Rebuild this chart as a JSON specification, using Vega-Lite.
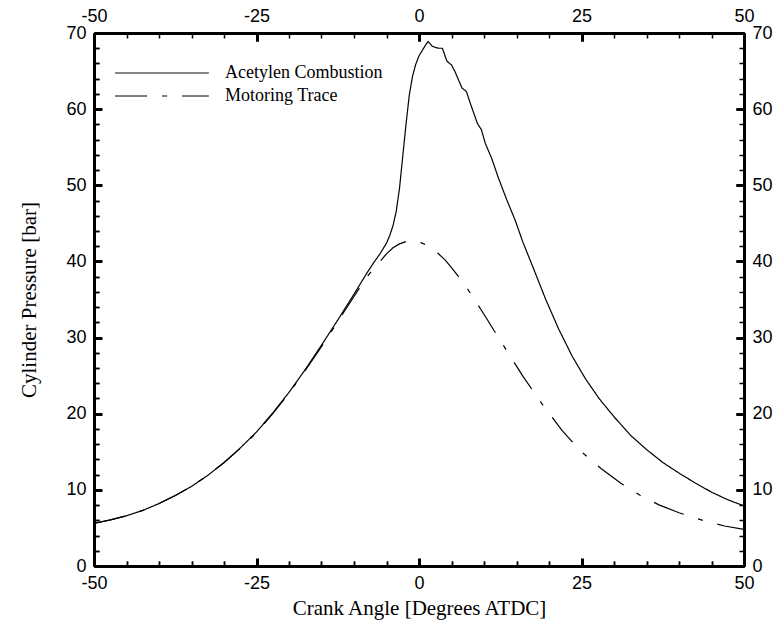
{
  "$schema": "https://vega.github.io/schema/vega-lite/v6.json",
  "autosize": {"type": "none"},
  "padding": {"left": 94, "top": 33, "right": 35, "bottom": 55},
  "width": 650,
  "height": 533,
  "background": "white",
  "config": {
    "view": {"stroke": null},
    "axis": {"domainColor": "black", "domainWidth": 3, "labelColor": "black", "titleColor": "black", "labelFont": "Liberation Sans", "labelFontSize": 18, "labelFontWeight": "normal", "titleFont": "Liberation Serif", "titleFontSize": 21, "titleFontWeight": "normal"}
  },
  "datasets": {
    "pressure": [
      {"angle": -50, "p": 5.6, "series": "Acetylen Combustion"},
      {"angle": -47.5, "p": 6.05, "series": "Acetylen Combustion"},
      {"angle": -45, "p": 6.6, "series": "Acetylen Combustion"},
      {"angle": -42.5, "p": 7.3, "series": "Acetylen Combustion"},
      {"angle": -40, "p": 8.2, "series": "Acetylen Combustion"},
      {"angle": -37.5, "p": 9.25, "series": "Acetylen Combustion"},
      {"angle": -35, "p": 10.45, "series": "Acetylen Combustion"},
      {"angle": -32.5, "p": 11.9, "series": "Acetylen Combustion"},
      {"angle": -30, "p": 13.6, "series": "Acetylen Combustion"},
      {"angle": -27.5, "p": 15.5, "series": "Acetylen Combustion"},
      {"angle": -25, "p": 17.6, "series": "Acetylen Combustion"},
      {"angle": -22.5, "p": 20.1, "series": "Acetylen Combustion"},
      {"angle": -20, "p": 22.8, "series": "Acetylen Combustion"},
      {"angle": -17.5, "p": 25.8, "series": "Acetylen Combustion"},
      {"angle": -15, "p": 29.0, "series": "Acetylen Combustion"},
      {"angle": -12.5, "p": 32.3, "series": "Acetylen Combustion"},
      {"angle": -10, "p": 35.7, "series": "Acetylen Combustion"},
      {"angle": -8, "p": 38.5, "series": "Acetylen Combustion"},
      {"angle": -7, "p": 39.8, "series": "Acetylen Combustion"},
      {"angle": -6, "p": 41.0, "series": "Acetylen Combustion"},
      {"angle": -5, "p": 42.4, "series": "Acetylen Combustion"},
      {"angle": -4.5, "p": 43.4, "series": "Acetylen Combustion"},
      {"angle": -4, "p": 44.7, "series": "Acetylen Combustion"},
      {"angle": -3.5, "p": 46.6, "series": "Acetylen Combustion"},
      {"angle": -3, "p": 49.6, "series": "Acetylen Combustion"},
      {"angle": -2.5, "p": 53.8, "series": "Acetylen Combustion"},
      {"angle": -2, "p": 58.0, "series": "Acetylen Combustion"},
      {"angle": -1.5, "p": 61.8, "series": "Acetylen Combustion"},
      {"angle": -1, "p": 64.3, "series": "Acetylen Combustion"},
      {"angle": -0.5, "p": 65.9, "series": "Acetylen Combustion"},
      {"angle": 0, "p": 67.0, "series": "Acetylen Combustion"},
      {"angle": 0.5, "p": 67.7, "series": "Acetylen Combustion"},
      {"angle": 1, "p": 68.4, "series": "Acetylen Combustion"},
      {"angle": 1.4, "p": 68.9, "series": "Acetylen Combustion"},
      {"angle": 1.7, "p": 68.6, "series": "Acetylen Combustion"},
      {"angle": 2, "p": 68.3, "series": "Acetylen Combustion"},
      {"angle": 2.5, "p": 68.1, "series": "Acetylen Combustion"},
      {"angle": 3, "p": 68.0, "series": "Acetylen Combustion"},
      {"angle": 3.6, "p": 68.0, "series": "Acetylen Combustion"},
      {"angle": 4, "p": 67.0, "series": "Acetylen Combustion"},
      {"angle": 4.3, "p": 66.3, "series": "Acetylen Combustion"},
      {"angle": 5, "p": 65.8, "series": "Acetylen Combustion"},
      {"angle": 5.5, "p": 65.0, "series": "Acetylen Combustion"},
      {"angle": 6, "p": 64.0, "series": "Acetylen Combustion"},
      {"angle": 6.6, "p": 62.8, "series": "Acetylen Combustion"},
      {"angle": 7.3, "p": 62.3, "series": "Acetylen Combustion"},
      {"angle": 8, "p": 60.5, "series": "Acetylen Combustion"},
      {"angle": 9, "p": 58.1, "series": "Acetylen Combustion"},
      {"angle": 9.6, "p": 57.3, "series": "Acetylen Combustion"},
      {"angle": 10.2, "p": 55.5, "series": "Acetylen Combustion"},
      {"angle": 11.2, "p": 53.5, "series": "Acetylen Combustion"},
      {"angle": 12.2, "p": 51.0, "series": "Acetylen Combustion"},
      {"angle": 13.5, "p": 48.1, "series": "Acetylen Combustion"},
      {"angle": 14.8, "p": 45.4, "series": "Acetylen Combustion"},
      {"angle": 16, "p": 42.5, "series": "Acetylen Combustion"},
      {"angle": 17.6, "p": 39.1, "series": "Acetylen Combustion"},
      {"angle": 19.5, "p": 35.0, "series": "Acetylen Combustion"},
      {"angle": 21.5, "p": 31.1, "series": "Acetylen Combustion"},
      {"angle": 23.6, "p": 27.5, "series": "Acetylen Combustion"},
      {"angle": 25.6, "p": 24.6, "series": "Acetylen Combustion"},
      {"angle": 27.7, "p": 22.0, "series": "Acetylen Combustion"},
      {"angle": 30, "p": 19.6, "series": "Acetylen Combustion"},
      {"angle": 32.5, "p": 17.2, "series": "Acetylen Combustion"},
      {"angle": 35, "p": 15.3, "series": "Acetylen Combustion"},
      {"angle": 37.5, "p": 13.6, "series": "Acetylen Combustion"},
      {"angle": 40, "p": 12.2, "series": "Acetylen Combustion"},
      {"angle": 42.5, "p": 10.9, "series": "Acetylen Combustion"},
      {"angle": 45, "p": 9.7, "series": "Acetylen Combustion"},
      {"angle": 47.5, "p": 8.7, "series": "Acetylen Combustion"},
      {"angle": 50, "p": 7.9, "series": "Acetylen Combustion"},
      {"angle": -50, "p": 5.6, "series": "Motoring Trace"},
      {"angle": -47.5, "p": 6.05, "series": "Motoring Trace"},
      {"angle": -45, "p": 6.6, "series": "Motoring Trace"},
      {"angle": -42.5, "p": 7.3, "series": "Motoring Trace"},
      {"angle": -40, "p": 8.2, "series": "Motoring Trace"},
      {"angle": -37.5, "p": 9.25, "series": "Motoring Trace"},
      {"angle": -35, "p": 10.45, "series": "Motoring Trace"},
      {"angle": -32.5, "p": 11.9, "series": "Motoring Trace"},
      {"angle": -30, "p": 13.55, "series": "Motoring Trace"},
      {"angle": -27.5, "p": 15.45, "series": "Motoring Trace"},
      {"angle": -25, "p": 17.5, "series": "Motoring Trace"},
      {"angle": -22.5, "p": 20.0, "series": "Motoring Trace"},
      {"angle": -20, "p": 22.7, "series": "Motoring Trace"},
      {"angle": -17.5, "p": 25.7, "series": "Motoring Trace"},
      {"angle": -15, "p": 28.8, "series": "Motoring Trace"},
      {"angle": -12.5, "p": 32.1, "series": "Motoring Trace"},
      {"angle": -10, "p": 35.4, "series": "Motoring Trace"},
      {"angle": -8, "p": 38.0, "series": "Motoring Trace"},
      {"angle": -6, "p": 40.0, "series": "Motoring Trace"},
      {"angle": -5, "p": 41.0, "series": "Motoring Trace"},
      {"angle": -4, "p": 41.8, "series": "Motoring Trace"},
      {"angle": -3, "p": 42.3, "series": "Motoring Trace"},
      {"angle": -2, "p": 42.6, "series": "Motoring Trace"},
      {"angle": -1, "p": 42.7, "series": "Motoring Trace"},
      {"angle": 0, "p": 42.6, "series": "Motoring Trace"},
      {"angle": 1, "p": 42.2, "series": "Motoring Trace"},
      {"angle": 2, "p": 41.7, "series": "Motoring Trace"},
      {"angle": 3, "p": 41.0, "series": "Motoring Trace"},
      {"angle": 4, "p": 40.2, "series": "Motoring Trace"},
      {"angle": 5, "p": 39.2, "series": "Motoring Trace"},
      {"angle": 6, "p": 38.1, "series": "Motoring Trace"},
      {"angle": 7, "p": 37.0, "series": "Motoring Trace"},
      {"angle": 8, "p": 35.7, "series": "Motoring Trace"},
      {"angle": 9, "p": 34.4, "series": "Motoring Trace"},
      {"angle": 10.4, "p": 32.5, "series": "Motoring Trace"},
      {"angle": 12, "p": 30.3, "series": "Motoring Trace"},
      {"angle": 14, "p": 27.6, "series": "Motoring Trace"},
      {"angle": 16, "p": 24.9, "series": "Motoring Trace"},
      {"angle": 19, "p": 21.2, "series": "Motoring Trace"},
      {"angle": 22, "p": 17.8, "series": "Motoring Trace"},
      {"angle": 25, "p": 15.0, "series": "Motoring Trace"},
      {"angle": 28, "p": 12.8, "series": "Motoring Trace"},
      {"angle": 31, "p": 10.9, "series": "Motoring Trace"},
      {"angle": 34, "p": 9.3, "series": "Motoring Trace"},
      {"angle": 37, "p": 8.0, "series": "Motoring Trace"},
      {"angle": 40, "p": 7.0, "series": "Motoring Trace"},
      {"angle": 44, "p": 5.9, "series": "Motoring Trace"},
      {"angle": 47, "p": 5.25, "series": "Motoring Trace"},
      {"angle": 50, "p": 4.8, "series": "Motoring Trace"}
    ]
  },
  "data": {"name": "pressure"},
  "layer": [
    {
      "mark": {"type": "line", "color": "black", "strokeWidth": 1.2},
      "encoding": {
        "x": {"field": "angle", "type": "quantitative", "scale": {"domain": [-50, 50], "nice": false, "zero": false},
          "axis": {"orient": "bottom", "values": [-50, -45, -40, -35, -30, -25, -20, -15, -10, -5, 0, 5, 10, 15, 20, 25, 30, 35, 40, 45, 50], "ticks": true, "tickColor": "#000000", "tickSize": -5, "tickWidth": 1.5, "labelPadding": 13, "labelOverlap": false, "labelExpr": "datum.value % 25 == 0 ? datum.value + '' : ''", "title": "Crank Angle [Degrees ATDC]", "titlePadding": 5, "labelFlush": false,
            "grid": true, "gridColor": "#000000", "gridOpacity": 1, "gridWidth": 1.5, "gridDash": [5, 523, 5, 2000]}},
        "y": {"field": "p", "type": "quantitative", "scale": {"domain": [0, 70], "nice": false},
          "axis": {"orient": "left", "values": [0, 2, 4, 6, 8, 10, 12, 14, 16, 18, 20, 22, 24, 26, 28, 30, 32, 34, 36, 38, 40, 42, 44, 46, 48, 50, 52, 54, 56, 58, 60, 62, 64, 66, 68, 70], "ticks": true, "tickColor": "#000000", "tickSize": -5, "tickWidth": 1.5, "labelPadding": 13, "labelOverlap": false, "labelExpr": "datum.value % 10 == 0 ? datum.value + '' : ''", "title": "Cylinder Pressure [bar]", "titlePadding": 26, "labelFlush": false,
            "grid": true, "gridColor": "#000000", "gridOpacity": 1, "gridWidth": 1.5, "gridDash": [5, 640, 5, 2000]}},
        "strokeDash": {"field": "series", "type": "nominal",
          "scale": {"domain": ["Acetylen Combustion", "Motoring Trace"], "range": [[1, 0], [32, 15, 5, 15]]},
          "legend": {"orient": "none", "legendX": 59, "legendY": 31, "title": null, "padding": 0, "symbolType": "M-10,0H10", "symbolSize": 88, "symbolStrokeColor": "black", "symbolFillColor": "transparent", "symbolStrokeWidth": 1, "labelFont": "Liberation Serif", "labelFontSize": 18, "labelColor": "black", "labelOffset": 54, "rowPadding": 5}}
      }
    },
    {
      "mark": {"type": "point", "opacity": 0},
      "encoding": {
        "x": {"field": "angle", "type": "quantitative", "axis": {"orient": "top", "values": [-50, -25, 0, 25, 50], "ticks": true, "tickColor": "#000000", "tickSize": -8, "tickWidth": 3, "labelPadding": 16, "labelExpr": "datum.value + ''", "title": null, "labelFlush": false,
          "grid": true, "gridColor": "#000000", "gridOpacity": 1, "gridWidth": 3, "gridDash": [8, 517, 8, 2000]}},
        "y": {"field": "p", "type": "quantitative", "axis": {"orient": "right", "values": [0, 10, 20, 30, 40, 50, 60, 70], "ticks": true, "tickColor": "#000000", "tickSize": -8, "tickWidth": 3, "labelPadding": 16, "labelExpr": "datum.value + ''", "title": null, "labelFlush": false,
          "grid": true, "gridColor": "#000000", "gridOpacity": 1, "gridWidth": 3, "gridDash": [8, 634, 8, 2000]}}
      }
    }
  ],
  "resolve": {"axis": {"x": "independent", "y": "independent"}}
}
